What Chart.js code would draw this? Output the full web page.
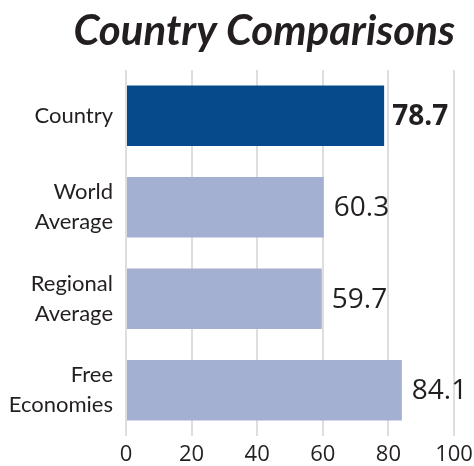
<!DOCTYPE html>
<html>
<head>
<meta charset="utf-8">
<script src="https://cdn.jsdelivr.net/npm/chart.js@4"></script>
<style>
  html, body { margin: 0; padding: 0; background: #fff; }
  canvas { display: block; }
</style>
</head>
<body>
<canvas id="chart" width="474" height="466"></canvas>
<script>
// data
const categories = [['Country'], ['World', 'Average'], ['Regional', 'Average'], ['Free', 'Economies']];
const scores = [78.7, 60.3, 59.7, 84.1];
const barColors = ['#064a8c', '#a4b0d2', '#a4b0d2', '#a4b0d2'];
const xTicks = [0, 20, 40, 60, 80, 100];
const chartTitle = 'Country Comparisons';

const textColor = '#231f20';

// title drawn right-aligned to the plot area
const titlePlugin = {
    id: 'rightTitle',
    afterDraw(chart) {
        const ctx = chart.ctx;
        ctx.save();
        ctx.font = 'italic bold 42px Lato';
        ctx.fillStyle = textColor;
        ctx.textAlign = 'right';
        ctx.textBaseline = 'alphabetic';
        ctx.fillText(chartTitle, chart.chartArea.right + 1, 45);
        ctx.restore();
    }
};

// value labels at the end of each bar
const valueLabels = {
    id: 'valueLabels',
    afterDatasetsDraw(chart) {
        const ctx = chart.ctx;
        const meta = chart.getDatasetMeta(0);
        ctx.save();
        ctx.fillStyle = textColor;
        ctx.textAlign = 'left';
        ctx.textBaseline = 'middle';
        meta.data.forEach((bar, i) => {
            ctx.font = (i === 0 ? 'bold ' : '') + '28px "Open Sans"';
            ctx.fillText(scores[i].toFixed(1), bar.x + (i === 0 ? 8 : 10), bar.y + 1);
        });
        ctx.restore();
    }
};

new Chart(document.getElementById('chart'), {
    type: 'bar',
    data: {
        labels: categories,
        datasets: [{
            data: scores,
            backgroundColor: barColors,
            borderWidth: 0,
            categoryPercentage: 1,
            barPercentage: 0.66
        }]
    },
    options: {
        indexAxis: 'y',
        responsive: false,
        animation: false,
        layout: {
            padding: { top: 70, left: 0, right: 0, bottom: 0 }
        },
        plugins: {
            legend: { display: false },
            tooltip: { enabled: false }
        },
        scales: {
            x: {
                min: 0,
                max: 100,
                afterBuildTicks: axis => {
                    axis.ticks = xTicks.map(v => ({ value: v }));
                },
                afterFit: axis => {
                    axis.height = 30;
                    axis.paddingRight = 20;
                    axis.paddingLeft = 0;
                },
                grid: {
                    color: '#dedede',
                    lineWidth: 2,
                    drawTicks: false
                },
                border: { display: false },
                ticks: {
                    padding: 8,
                    color: textColor,
                    font: { family: '"Open Sans"', size: 22, lineHeight: 1 }
                }
            },
            y: {
                afterFit: axis => {
                    axis.width = 126;
                },
                grid: { display: false, drawTicks: false },
                border: { display: false },
                ticks: {
                    padding: 13,
                    color: textColor,
                    font: { family: 'Lato', size: 22, lineHeight: 1.36 }
                }
            }
        }
    },
    plugins: [titlePlugin, valueLabels]
});
</script>
</body>
</html>
